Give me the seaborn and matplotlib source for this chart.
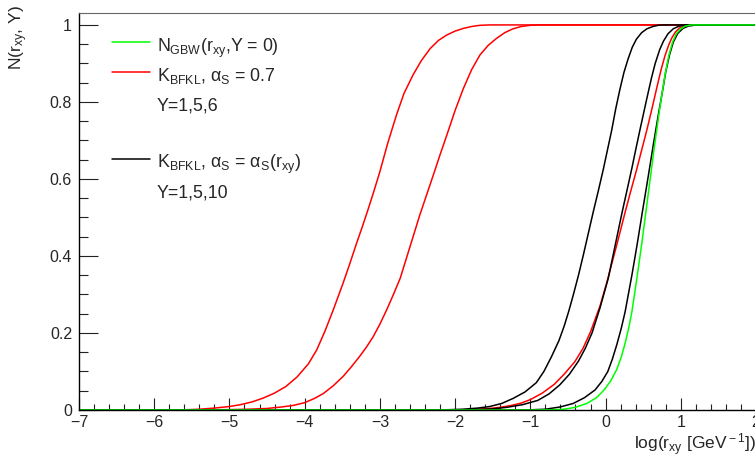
import matplotlib
matplotlib.use('Agg')
import matplotlib.pyplot as plt
import seaborn as sns
from matplotlib.lines import Line2D
from matplotlib.ticker import MultipleLocator

# curves: x = log(r_xy), y = N(r_xy, Y)
red_y6_x = [-7, -6.0, -5.6, -5.4, -5.2, -5.0, -4.85, -4.7, -4.55, -4.4, -4.25, -4.1, -3.95, -3.84, -3.73,
            -3.62, -3.49, -3.4, -3.31, -3.23, -3.16, -3.08, -3.0, -2.9, -2.78, -2.68, -2.56, -2.45, -2.33,
            -2.22, -2.11, -2.0, -1.89, -1.78, -1.67, -1.55, 2]
red_y6_y = [0, 0, 0.0005, 0.002, 0.005, 0.009, 0.014, 0.021, 0.031, 0.044, 0.061, 0.086, 0.12, 0.156, 0.205,
            0.26, 0.329, 0.38, 0.433, 0.478, 0.519, 0.568, 0.619, 0.69, 0.766, 0.822, 0.87, 0.907, 0.939,
            0.96, 0.974, 0.984, 0.991, 0.996, 0.999, 1.0, 1.0]

red_y5_x = [-7, -5.4, -5.0, -4.75, -4.5, -4.3, -4.15, -4.0, -3.87, -3.75, -3.62, -3.49, -3.38, -3.27, -3.18,
            -3.09, -3.0, -2.91, -2.82, -2.73, -2.6, -2.47, -2.38, -2.29, -2.2, -2.11, -2.0, -1.89, -1.78,
            -1.67, -1.56, -1.45, -1.34, -1.23, -1.12, -1.0, -0.9, 2]
red_y5_y = [0, 0, 0.001, 0.002, 0.004, 0.008, 0.012, 0.019, 0.03, 0.043, 0.063, 0.087, 0.112, 0.139, 0.163,
            0.19, 0.223, 0.26, 0.3, 0.342, 0.424, 0.506, 0.558, 0.61, 0.663, 0.714, 0.778, 0.835, 0.884,
            0.922, 0.947, 0.965, 0.98, 0.99, 0.996, 0.999, 1.0, 1.0]

red_y1_x = [-7, -2.0, -1.7, -1.54, -1.4, -1.25, -1.12, -1.0, -0.84, -0.68, -0.55, -0.41, -0.3, -0.2, -0.074,
            0.015, 0.08, 0.148, 0.258, 0.33, 0.41, 0.48, 0.55, 0.62, 0.68, 0.74, 0.79, 0.84, 0.88, 0.93,
            0.99, 1.05, 1.12, 2]
red_y1_y = [0, 0, 0.002, 0.004, 0.007, 0.012, 0.018, 0.027, 0.044, 0.067, 0.093, 0.125, 0.16, 0.203, 0.27,
            0.33, 0.378, 0.428, 0.512, 0.565, 0.622, 0.675, 0.728, 0.785, 0.836, 0.885, 0.92, 0.948, 0.966,
            0.982, 0.993, 0.998, 1.0, 1.0]

blk_a_x = [-7, -2.2, -1.9, -1.7, -1.54, -1.38, -1.23, -1.07, -0.92, -0.82, -0.72, -0.62, -0.55, -0.49,
           -0.43, -0.36, -0.296, -0.23, -0.163, -0.1, -0.031, 0.025, 0.081, 0.135, 0.19, 0.245, 0.30,
           0.355, 0.41, 0.48, 0.55, 0.63, 0.72, 2]
blk_a_y = [0, 0, 0.002, 0.005, 0.009, 0.017, 0.030, 0.047, 0.071, 0.1, 0.138, 0.18, 0.218, 0.256,
           0.298, 0.35, 0.402, 0.458, 0.515, 0.566, 0.624, 0.675, 0.726, 0.782, 0.832, 0.877, 0.912,
           0.942, 0.963, 0.98, 0.99, 0.996, 1.0, 1.0]

blk_b_x = [-7, -1.8, -1.5, -1.31, -1.1, -0.9, -0.75, -0.61, -0.48, -0.36, -0.27, -0.18, -0.074, 0.036,
           0.125, 0.214, 0.29, 0.35, 0.40, 0.46, 0.55, 0.61, 0.66, 0.72, 0.77, 0.83, 0.90, 0.98, 1.08, 2]
blk_b_y = [0, 0, 0.003, 0.007, 0.014, 0.025, 0.042, 0.065, 0.093, 0.127, 0.16, 0.2, 0.265, 0.342,
           0.425, 0.508, 0.575, 0.628, 0.675, 0.73, 0.81, 0.862, 0.9, 0.936, 0.958, 0.977, 0.99, 0.997, 1.0, 1.0]

blk_c_x = [-7, -1.3, -1.0, -0.8, -0.6, -0.43, -0.28, -0.14, -0.05, 0.03, 0.09, 0.15, 0.21, 0.26, 0.35,
           0.42, 0.49, 0.57, 0.64, 0.70, 0.75, 0.80, 0.85, 0.90, 0.96, 1.03, 1.1, 1.21, 2]
blk_c_y = [0, 0, 0.0005, 0.002, 0.008, 0.017, 0.032, 0.052, 0.074, 0.100, 0.132, 0.17, 0.213, 0.255, 0.35,
           0.43, 0.515, 0.61, 0.695, 0.765, 0.82, 0.878, 0.922, 0.955, 0.978, 0.991, 0.997, 1.0, 1.0]

gbw_x = [-7, -1.0, -0.7, -0.55, -0.4, -0.25, -0.12, -0.02, 0.07, 0.148, 0.21, 0.265, 0.31, 0.35, 0.415,
         0.48, 0.54, 0.60, 0.65, 0.70, 0.745, 0.79, 0.84, 0.89, 0.94, 1.0, 1.06, 1.14, 2]
gbw_y = [0, 0, 0.0007, 0.002, 0.007, 0.017, 0.032, 0.052, 0.076, 0.105, 0.138, 0.177, 0.215, 0.255, 0.34,
         0.43, 0.52, 0.61, 0.685, 0.755, 0.815, 0.87, 0.92, 0.955, 0.977, 0.99, 0.997, 1.0, 1.0]

legend_labels = ['N$_{\\rm GBW}$(r$_{\\rm xy}$,Y = 0)',
                 'K$_{\\rm BFKL}$, α$_{\\rm S}$ = 0.7',
                 'Y=1,5,6',
                 ' ',
                 'K$_{\\rm BFKL}$, α$_{\\rm S}$ = α$_{\\rm S}$(r$_{\\rm xy}$)',
                 'Y=1,5,10']

sns.set_style('ticks')
plt.rcParams['font.family'] = ['Liberation Sans', 'DejaVu Sans']
plt.rcParams['mathtext.fontset'] = 'custom'
plt.rcParams['mathtext.rm'] = 'Liberation Sans'
plt.rcParams['mathtext.it'] = 'Liberation Sans'
plt.rcParams['mathtext.bf'] = 'Liberation Sans:bold'

fig = plt.figure(figsize=(7.55, 4.59), dpi=100)
ax = fig.add_axes([79 / 755, 49 / 459, 677 / 755, 397 / 459])

curves = [(red_y6_x, red_y6_y, '#ff0000'),
          (red_y5_x, red_y5_y, '#ff0000'),
          (red_y1_x, red_y1_y, '#ff0000'),
          (blk_a_x, blk_a_y, 'black'),
          (blk_b_x, blk_b_y, 'black'),
          (blk_c_x, blk_c_y, 'black'),
          (gbw_x, gbw_y, '#00ff00')]
for xs, ys, col in curves:
    sns.lineplot(x=xs, y=ys, color=col, lw=1.1, estimator=None, sort=False, ax=ax)

ax.set_xlim(-7, 2)
ax.set_ylim(0, 1.031)
ax.set_xticks(range(-7, 3))
ax.xaxis.set_minor_locator(MultipleLocator(0.2))
ax.set_yticks([0, 0.2, 0.4, 0.6, 0.8, 1.0])
ax.set_yticklabels(['0', '0.2', '0.4', '0.6', '0.8', '1'])
ax.yaxis.set_minor_locator(MultipleLocator(0.05))

ax.tick_params(axis='both', which='both', direction='in', top=False, right=False,
               width=0.8, color='#222222', labelsize=11.5)
ax.tick_params(axis='x', which='major', length=8.3, pad=3.5)
ax.tick_params(axis='x', which='minor', length=4.2)
ax.tick_params(axis='y', which='major', length=13.5, pad=5)
ax.tick_params(axis='y', which='minor', length=6.7)

for side in ['left', 'bottom']:
    ax.spines[side].set_color('black')
    ax.spines[side].set_linewidth(1.0)
ax.spines['top'].set_color('#666666')
ax.spines['top'].set_linewidth(0.8)
ax.spines['right'].set_visible(False)

ax.set_xlabel('log(r$_{\\rm xy}$ [GeV$^{\\rm -1}$])', fontsize=12.5, ha='right', va='top')
ax.xaxis.set_label_coords(1.0, -0.053)
ylab = ax.set_ylabel('N(r$_{\\rm xy}$, Y)', fontsize=12.5)
ylab.set_rotation(90)
ylab.set_rotation_mode('anchor')
ylab.set_ha('right')
ylab.set_va('center')
ax.yaxis.set_label_coords(-0.0886, 1.02)

handles = [Line2D([], [], color='#00ff00', lw=1.1),
           Line2D([], [], color='#ff0000', lw=1.1),
           Line2D([], [], color='none'),
           Line2D([], [], color='none'),
           Line2D([], [], color='black', lw=1.1),
           Line2D([], [], color='none')]
ax.legend(handles, legend_labels, loc='upper left', bbox_to_anchor=(0.0487, (410 - 33) / 397),
          frameon=False, fontsize=12.8, handlelength=2.13, handletextpad=0.4,
          handleheight=1.9, labelspacing=0.146, borderaxespad=0, borderpad=0)

fig.savefig('out.png', dpi=100)
